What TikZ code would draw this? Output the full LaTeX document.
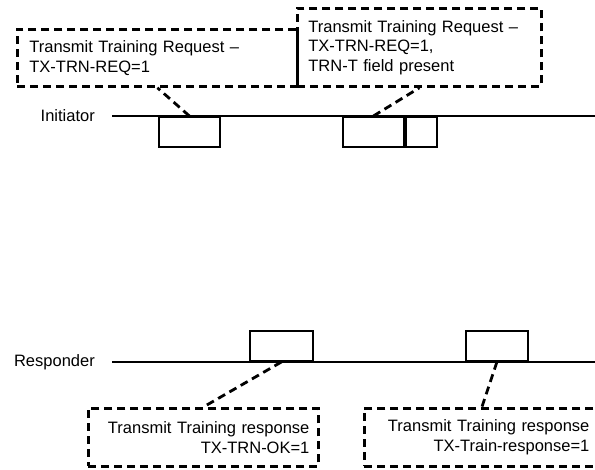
\documentclass[tikz,border=0pt]{standalone}
\usepackage{fontspec}
\setmainfont{Liberation Sans}
\usetikzlibrary{positioning}
\tikzset{
	txt/.style={font=\fontsize{16.5}{19.5}\selectfont},
	callout/.style={txt,draw,line width=2.8pt,dash pattern=on 8pt off 5pt,anchor=north west,inner ysep=0pt},
	link/.style={line width=2.8pt,dash pattern=on 8pt off 5pt},
	slot/.style={draw,line width=1.8pt,inner sep=0pt,minimum height=30pt}
}
\begin{document}
\begin{tikzpicture}[x=1pt,y=-1pt]
	\useasboundingbox (0,0) rectangle (595,470);
	% time lines
	\coordinate (istart) at (112,116);
	\coordinate (iend) at (595,116);
	\coordinate (rstart) at (112,362);
	\coordinate (rend) at (595,362);
	\draw[line width=1.4pt] (istart) -- (iend);
	\draw[line width=1.4pt] (rstart) -- (rend);
	\node[txt,left=17pt of istart,inner sep=0pt] (initlbl) {Initiator};
	\node[txt,left=17pt of rstart,inner sep=0pt] (resplbl) {Responder};
	% frames on the lines
	\node[slot,anchor=north west,minimum width=61pt] (ib1) at (158,116) {};
	\node[slot,anchor=north west,minimum width=61pt] (ib2a) at (342,116) {};
	\node[slot,anchor=north west,minimum width=31pt] (ib2b) at (ib2a.north east) {};
	\node[slot,anchor=south west,minimum width=63pt] (rb1) at (249,362) {};
	\node[slot,anchor=south west,minimum width=62pt] (rb2) at (465,362) {};
	% callouts
	\node[callout,inner xsep=12pt,text width=256pt,minimum height=57pt,align=left] (cb1) at (16,28)
		{Transmit Training Request --\\TX-TRN-REQ=1};
	\node[callout,inner xsep=11pt,text width=222pt,minimum height=78pt,align=left] (cb2) at (296,7)
		{Transmit Training Request --\\TX-TRN-REQ=1,\\TRN-T field present};
	\node[callout,inner xsep=9pt,text width=212pt,minimum height=58pt,align=right] (cb3) at (87,407)
		{Transmit Training response\\TX-TRN-OK=1};
	\node[callout,inner xsep=10pt,text width=215pt,minimum height=58pt,align=right] (cb4) at (363,407)
		{Transmit Training response\\TX-Train-response=1};
	\draw[link] (ib1.north) -- (cb1.south);
	\draw[link] (ib2a.north) -- (cb2.south);
	\draw[link] (rb1.south) -- (cb3.north);
	\draw[link] (rb2.south) -- (cb4.north);
\end{tikzpicture}
\end{document}
